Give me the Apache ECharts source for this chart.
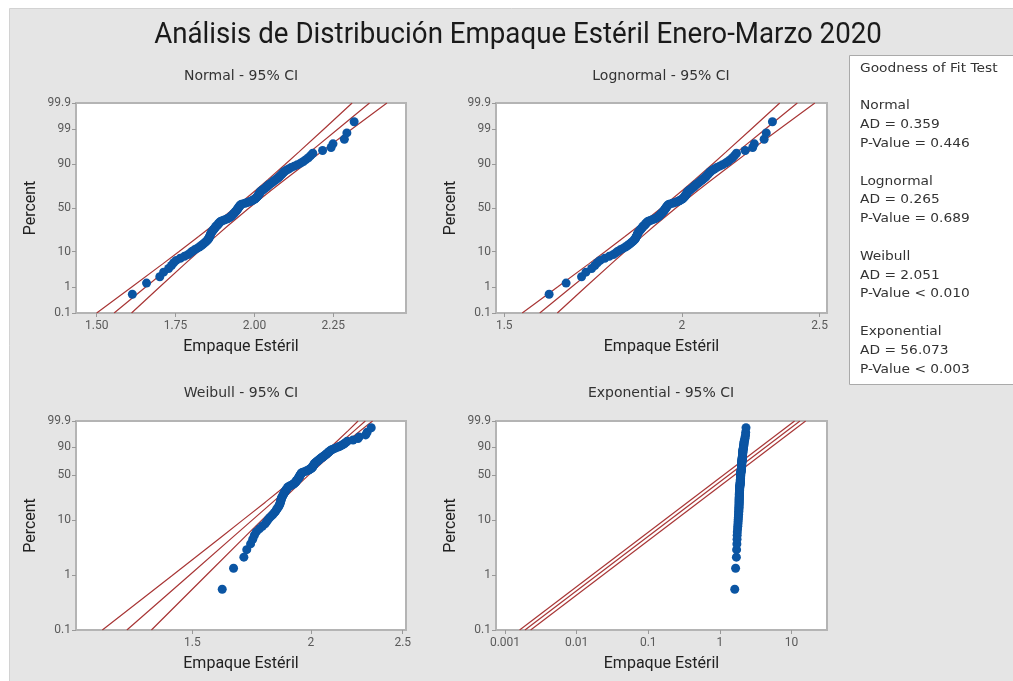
<!DOCTYPE html>
<html><head><meta charset="utf-8">
<script src="https://cdn.jsdelivr.net/npm/echarts@6/dist/echarts.min.js"></script>
<style>html,body{margin:0;padding:0;background:#fff}#c{width:1013px;height:681px}</style>
</head><body><div id="c"></div>
<script>
// ---- data (sorted sample) ----
const values = [
1.613,1.658,1.700,1.712,1.728,1.737,1.744,1.752,1.765,1.778,
1.790,1.797,1.803,1.810,1.818,1.825,1.831,1.836,1.840,1.844,
1.848,1.851,1.854,1.856,1.857,1.859,1.860,1.861,1.862,1.864,
1.866,1.868,1.870,1.872,1.874,1.876,1.878,1.880,1.883,1.885,
1.887,1.889,1.891,1.894,1.900,1.906,1.912,1.917,1.921,1.924,
1.927,1.929,1.931,1.933,1.935,1.937,1.939,1.941,1.943,1.944,
1.946,1.947,1.949,1.950,1.952,1.953,1.955,1.957,1.962,1.970,
1.977,1.984,1.989,1.993,1.997,2.001,2.004,2.006,2.008,2.010,
2.012,2.013,2.015,2.016,2.018,2.019,2.021,2.025,2.028,2.032,
2.035,2.038,2.041,2.044,2.047,2.051,2.055,2.059,2.062,2.066,
2.070,2.074,2.078,2.081,2.085,2.088,2.092,2.095,2.101,2.108,
2.116,2.126,2.136,2.146,2.155,2.163,2.171,2.178,2.185,2.216,
2.243,2.249,2.285,2.293,2.316];

const pctTicksNormal = [0.1, 1, 10, 50, 90, 99, 99.9];
const pctTicksWeibull = [0.1, 1, 10, 50, 90, 99.9];
const xTicksNormal = [1.50, 1.75, 2.00, 2.25];
const xTicksLog = [1.5, 2, 2.5];
const xTicksExpo = [0.001, 0.01, 0.1, 1, 10];

// fitted line and 95% CI (x values at these percents)
const ciPct = [0.1, 1, 5, 10, 20, 30, 50, 70, 80, 90, 95, 99, 99.9];
const normalLower = [1.5000,1.6111,1.7093,1.7611,1.8230,1.8668,1.9370,2.0042,2.0436,2.0969,2.1403,2.2205,2.3096];
const normalFit   = [1.5552,1.6553,1.7445,1.7921,1.8497,1.8913,1.9600,2.0287,2.0703,2.1279,2.1755,2.2647,2.3648];
const normalUpper = [1.6104,1.6995,1.7797,1.8231,1.8764,1.9158,1.9830,2.0532,2.0970,2.1589,2.2107,2.3089,2.4200];
const lognormalLower = [1.5442,1.6351,1.7201,1.7666,1.8238,1.8654,1.9342,2.0023,2.0433,2.1002,2.1476,2.2383,2.3436];
const lognormalFit   = [1.5887,1.6728,1.7516,1.7950,1.8491,1.8891,1.9572,2.0277,2.0716,2.1340,2.1869,2.2899,2.4112];
const lognormalUpper = [1.6345,1.7113,1.7837,1.8239,1.8747,1.9131,1.9805,2.0535,2.1003,2.1684,2.2270,2.3427,2.4807];
const weibullLower = [1.2057,1.4286,1.6096,1.6962,1.7910,1.8522,1.9406,2.0142,2.0527,2.0995,2.1339,2.1900,2.2433];
const weibullFit   = [1.2797,1.4885,1.6561,1.7360,1.8235,1.8804,1.9640,2.0363,2.0754,2.1246,2.1616,2.2233,2.2831];
const weibullUpper = [1.3583,1.5510,1.7040,1.7767,1.8566,1.9090,1.9877,2.0586,2.0984,2.1500,2.1897,2.2571,2.3236];
const expoPct = [0.1, 99.9];
const expoLower = [0.001600, 11.05];
const expoFit   = [0.001900, 13.12];
const expoUpper = [0.002280, 15.75];

const gofLines = ['Goodness of Fit Test','','Normal','AD = 0.359','P-Value = 0.446','',
 'Lognormal','AD = 0.265','P-Value = 0.689','','Weibull','AD = 2.051','P-Value < 0.010','',
 'Exponential','AD = 56.073','P-Value < 0.003'];

// ---- probability-scale transforms ----
function probit(p){
 const a=[-3.969683028665376e+01,2.209460984245205e+02,-2.759285104469687e+02,1.383577518672690e+02,-3.066479806614716e+01,2.506628277459239e+00];
 const b=[-5.447609879822406e+01,1.615858368580409e+02,-1.556989798598866e+02,6.680131188771972e+01,-1.328068155288572e+01];
 const c=[-7.784894002430293e-03,-3.223964580411365e-01,-2.400758277161838e+00,-2.549732539343734e+00,4.374664141464968e+00,2.938163982698783e+00];
 const d=[7.784695709041462e-03,3.224671290700398e-01,2.445134137142996e+00,3.754408661907416e+00];
 const pl=0.02425, ph=1-pl; let q,r;
 if(p<pl){q=Math.sqrt(-2*Math.log(p));return (((((c[0]*q+c[1])*q+c[2])*q+c[3])*q+c[4])*q+c[5])/((((d[0]*q+d[1])*q+d[2])*q+d[3])*q+1);}
 if(p<=ph){q=p-0.5;r=q*q;return (((((a[0]*r+a[1])*r+a[2])*r+a[3])*r+a[4])*r+a[5])*q/(((((b[0]*r+b[1])*r+b[2])*r+b[3])*r+b[4])*r+1);}
 q=Math.sqrt(-2*Math.log(1-p));return -(((((c[0]*q+c[1])*q+c[2])*q+c[3])*q+c[4])*q+c[5])/((((d[0]*q+d[1])*q+d[2])*q+d[3])*q+1);
}
const weib = p => Math.log(-Math.log(1-p));
const lin = v => v;
const lg = v => Math.log10(v);
const n = values.length;
const ranks = values.map((v,i)=>(i+1-0.3)/(n+0.4));

const LABEL = {fontSize:12, color:'#5a5a5a', fontFamily:'Roboto'};
const NAME = {fontSize:16, color:'#222', fontFamily:'Roboto'};
const LINE_COLOR = '#a83636';
const DOT_COLOR = '#0b55a3';
const FRAME = '#b4b4b4';

function nearestLabel(list, tf, fmt){
  const cv = list.map(tf);
  return v => { let k=0, best=1e9; cv.forEach((c,i)=>{const d=Math.abs(c-v); if(d<best){best=d;k=i;}}); return fmt(list[k]); };
}
function yAxis(gi, yf, ticks){
  const cv = ticks.map(t=>yf(t/100));
  return {type:'value', gridIndex:gi, min:cv[0]-1e-9, max:cv[cv.length-1]+1e-9,
    name:'Percent', nameLocation:'middle', nameGap:37, nameTextStyle:NAME,
    axisLine:{show:true, onZero:false, lineStyle:{color:FRAME, width:2}},
    splitLine:{show:false},
    axisTick:{show:true, customValues:cv, length:4, lineStyle:{color:'#999'}},
    axisLabel:Object.assign({customValues:cv, margin:5, hideOverlap:false, showMinLabel:true, showMaxLabel:true,
      formatter:nearestLabel(ticks, t=>yf(t/100), t=>String(t))}, LABEL)};
}
function xAxis(gi, xf, ticks, mn, mx, fmt){
  const cv = ticks.map(xf);
  return {type:'value', gridIndex:gi, min:xf(mn), max:xf(mx),
    name:'Empaque Estéril', nameLocation:'middle', nameGap:26, nameTextStyle:NAME,
    axisLine:{show:true, onZero:false, lineStyle:{color:FRAME, width:2}},
    splitLine:{show:false},
    axisTick:{show:true, customValues:cv, length:4, lineStyle:{color:'#999'}},
    axisLabel:Object.assign({customValues:cv, margin:7, hideOverlap:false,
      formatter:nearestLabel(ticks, xf, fmt)}, LABEL)};
}
function lineSeries(gi, xf, yf, pcts, xs){
  return {type:'line', xAxisIndex:gi, yAxisIndex:gi, showSymbol:false, silent:true, clip:true,
    data: pcts.map((p,k)=>[xf(xs[k]), yf(p/100)]),
    lineStyle:{color:LINE_COLOR, width:1.2}, z:2};
}
function dots(gi, xf, yf){
  return {type:'scatter', xAxisIndex:gi, yAxisIndex:gi, symbolSize:9, silent:true,
    data: values.map((v,i)=>[xf(v), yf(ranks[i])]),
    itemStyle:{color:DOT_COLOR, opacity:1}, z:3};
}

const grids = [
  {left:76, top:103, width:330, height:210},
  {left:496, top:103, width:331, height:210},
  {left:76, top:421, width:330, height:209},
  {left:496, top:421, width:331, height:209}
].map(g=>Object.assign(g,{show:true, backgroundColor:'#fff', borderColor:FRAME, borderWidth:2, containLabel:false}));

const fmt2 = t=>t.toFixed(2);
const fmtG = t=>String(t);
const SUB = '14px "DejaVu Sans"';
function txt(x, y, s, font, extra){
  return Object.assign({type:'text', z:5, x:x, y:y, silent:true,
    style:{text:s, font:font, fill:'#333', align:'center', verticalAlign:'middle', textAlign:'center', textVerticalAlign:'middle'}}, extra||{});
}

const option = {
  animation:false,
  backgroundColor:'#fff',
  grid:grids,
  xAxis:[
    xAxis(0, lin, xTicksNormal, 1.4344, 2.4804, fmt2),
    xAxis(1, lg, xTicksLog, 1.480, 2.530, fmtG),
    xAxis(2, lg, xTicksLog, 1.131, 2.520, fmtG),
    xAxis(3, lg, xTicksExpo, 0.000749, 31.3, fmtG)
  ],
  yAxis:[
    yAxis(0, probit, pctTicksNormal),
    yAxis(1, probit, pctTicksNormal),
    yAxis(2, weib, pctTicksWeibull),
    yAxis(3, weib, pctTicksWeibull)
  ],
  series:[
    lineSeries(0, lin, probit, ciPct, normalLower),
    lineSeries(0, lin, probit, ciPct, normalFit),
    lineSeries(0, lin, probit, ciPct, normalUpper),
    dots(0, lin, probit),
    lineSeries(1, lg, probit, ciPct, lognormalLower),
    lineSeries(1, lg, probit, ciPct, lognormalFit),
    lineSeries(1, lg, probit, ciPct, lognormalUpper),
    dots(1, lg, probit),
    lineSeries(2, lg, weib, ciPct, weibullLower),
    lineSeries(2, lg, weib, ciPct, weibullFit),
    lineSeries(2, lg, weib, ciPct, weibullUpper),
    dots(2, lg, weib),
    lineSeries(3, lg, weib, expoPct, expoLower),
    lineSeries(3, lg, weib, expoPct, expoFit),
    lineSeries(3, lg, weib, expoPct, expoUpper),
    dots(3, lg, weib)
  ],
  graphic:[
    {type:'rect', z:-10, silent:true, shape:{x:9.5, y:8.5, width:1010, height:680},
      style:{fill:'#e5e5e5', stroke:'#d2d2d2', lineWidth:1}},
    txt(518, 36, 'Análisis de Distribución Empaque Estéril Enero-Marzo 2020', '29px Roboto', {scaleX:0.955, originX:0, originY:0}),
    txt(241, 76, 'Normal - 95% CI', SUB),
    txt(661, 76, 'Lognormal - 95% CI', SUB),
    txt(241, 393, 'Weibull - 95% CI', SUB),
    txt(661, 393, 'Exponential - 95% CI', SUB),
    {type:'rect', z:4, silent:true, shape:{x:849.5, y:55.5, width:180, height:329},
      style:{fill:'#fff', stroke:'#aaa', lineWidth:1}},
    {type:'text', z:5, x:860, y:59, silent:true, scaleX:1.06, originX:0, originY:0,
      style:{text:gofLines.join('\n'), font:'13px "DejaVu Sans"', lineHeight:18.8,
      fill:'#333', align:'left', verticalAlign:'top', textAlign:'left', textVerticalAlign:'top'}}
  ]
};
option.graphic[1].style.fill = '#1a1a1a';
const chart = echarts.init(document.getElementById('c'), null, {renderer:'canvas'});
chart.setOption(option);
</script></body></html>
